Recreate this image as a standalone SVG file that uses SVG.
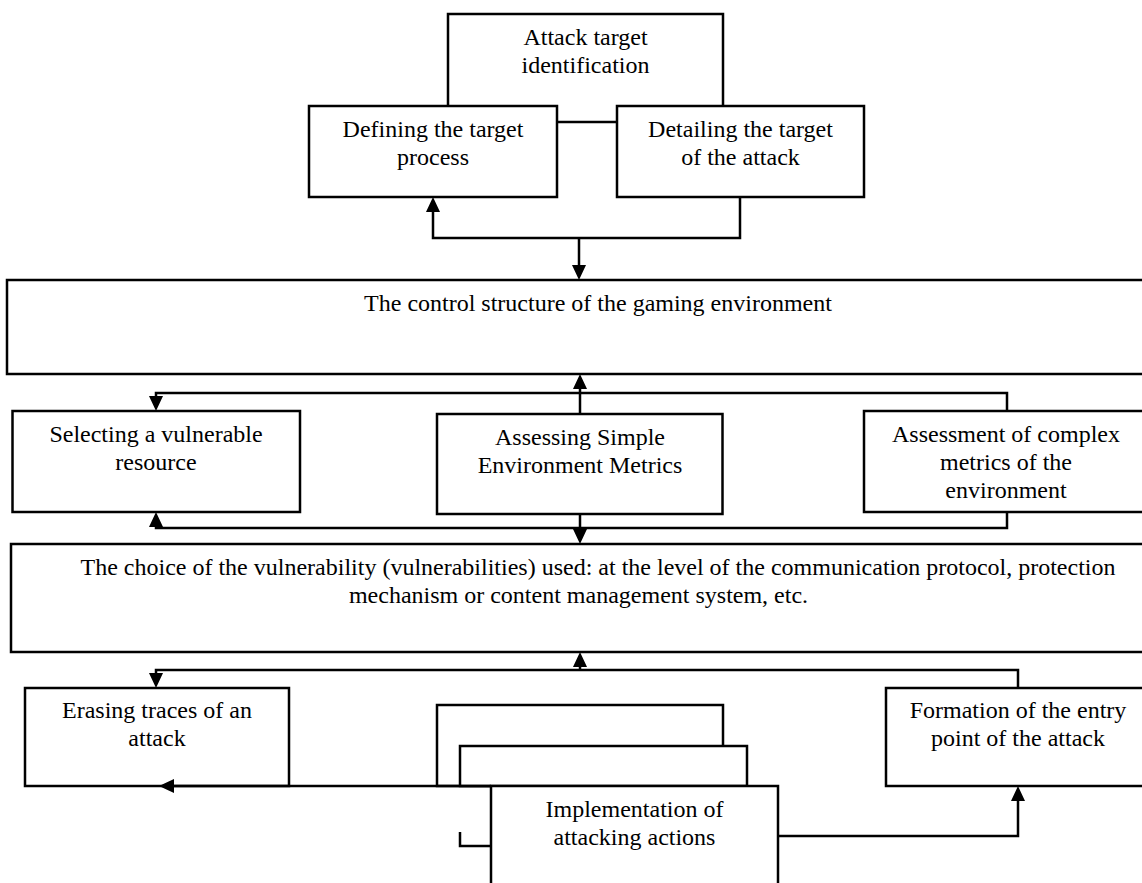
<svg xmlns="http://www.w3.org/2000/svg" width="1142" height="883" viewBox="0 0 1142 883">
<style>
.box{fill:#fff;stroke:#000;stroke-width:2.5}
.ln{fill:none;stroke:#000;stroke-width:2.5}
text{font-family:"Liberation Serif","Times New Roman",serif;font-size:24px;fill:#000;text-anchor:middle}
</style>
<defs>
<marker id="arr" viewBox="0 0 15 14" refX="11" refY="7" markerWidth="15" markerHeight="14" markerUnits="userSpaceOnUse" orient="auto">
<path d="M0,0 L15,7 L0,14 z" fill="#000"/>
</marker>
</defs>
<rect width="1142" height="883" fill="#fff"/>
<g id="n-attack-target-identification">
<rect class="box" x="448" y="14" width="275" height="108"/>
<text x="585.5" y="45">Attack target</text>
<text x="585.5" y="73">identification</text>
</g>
<g id="n-defining-target-process">
<rect class="box" x="309" y="106" width="248" height="91"/>
<text x="433" y="137">Defining the target</text>
<text x="433" y="165">process</text>
</g>
<g id="n-detailing-target">
<rect class="box" x="617" y="106" width="247" height="91"/>
<text x="740.5" y="137">Detailing the target</text>
<text x="740.5" y="165">of the attack</text>
</g>
<g id="n-control-structure">
<rect class="box" x="7" y="280" width="1183" height="94"/>
<text x="598" y="311">The control structure of the gaming environment</text>
</g>
<g id="n-selecting-resource">
<rect class="box" x="12.5" y="411" width="287.5" height="101"/>
<text x="156" y="442">Selecting a vulnerable</text>
<text x="156" y="470">resource</text>
</g>
<g id="n-assessing-simple">
<rect class="box" x="437" y="414" width="285.5" height="100"/>
<text x="580" y="445">Assessing Simple</text>
<text x="580" y="473">Environment Metrics</text>
</g>
<g id="n-assessment-complex">
<rect class="box" x="864" y="411" width="286" height="101"/>
<text x="1006" y="442">Assessment of complex</text>
<text x="1006" y="470">metrics of the</text>
<text x="1006" y="498">environment</text>
</g>
<g id="n-choice-vulnerability">
<rect class="box" x="11" y="544" width="1179" height="108"/>
<text x="598" y="575">The choice of the vulnerability (vulnerabilities) used: at the level of the communication protocol, protection</text>
<text x="578.5" y="603">mechanism or content management system, etc.</text>
</g>
<g id="n-erasing-traces">
<rect class="box" x="25" y="688" width="264" height="98"/>
<text x="157" y="718">Erasing traces of an</text>
<text x="157" y="746">attack</text>
</g>
<g id="n-formation-entry-point">
<rect class="box" x="886" y="688" width="264" height="98"/>
<text x="1018" y="718">Formation of the entry</text>
<text x="1018" y="746">point of the attack</text>
</g>
<g id="n-implementation-attacking-actions">
<rect class="box" x="437" y="705" width="286" height="81"/>
<rect class="box" x="460" y="746" width="287" height="40"/>
<rect class="box" x="491" y="786" width="287" height="120"/>
<text x="634.5" y="817">Implementation of</text>
<text x="634.5" y="845">attacking actions</text>
</g>
<g id="connectors">
<path class="ln" d="M740,197 V238 H433 V201" marker-end="url(#arr)"/>
<path class="ln" d="M579,238 V276" marker-end="url(#arr)"/>
<path class="ln" d="M1007,411 V393 H156 V407" marker-end="url(#arr)"/>
<path class="ln" d="M580,414 V378" marker-end="url(#arr)"/>
<path class="ln" d="M1007,512 V528 H156 V516" marker-end="url(#arr)"/>
<path class="ln" d="M580,514 V540" marker-end="url(#arr)"/>
<path class="ln" d="M580,670 V656" marker-end="url(#arr)"/>
<path class="ln" d="M1018,688 V670 H156 V684" marker-end="url(#arr)"/>
<path class="ln" d="M491,786 H163" marker-end="url(#arr)"/>
<path class="ln" d="M460,832 V846 H491"/>
<path class="ln" d="M778,836 H1018 V790" marker-end="url(#arr)"/>
</g>
</svg>
